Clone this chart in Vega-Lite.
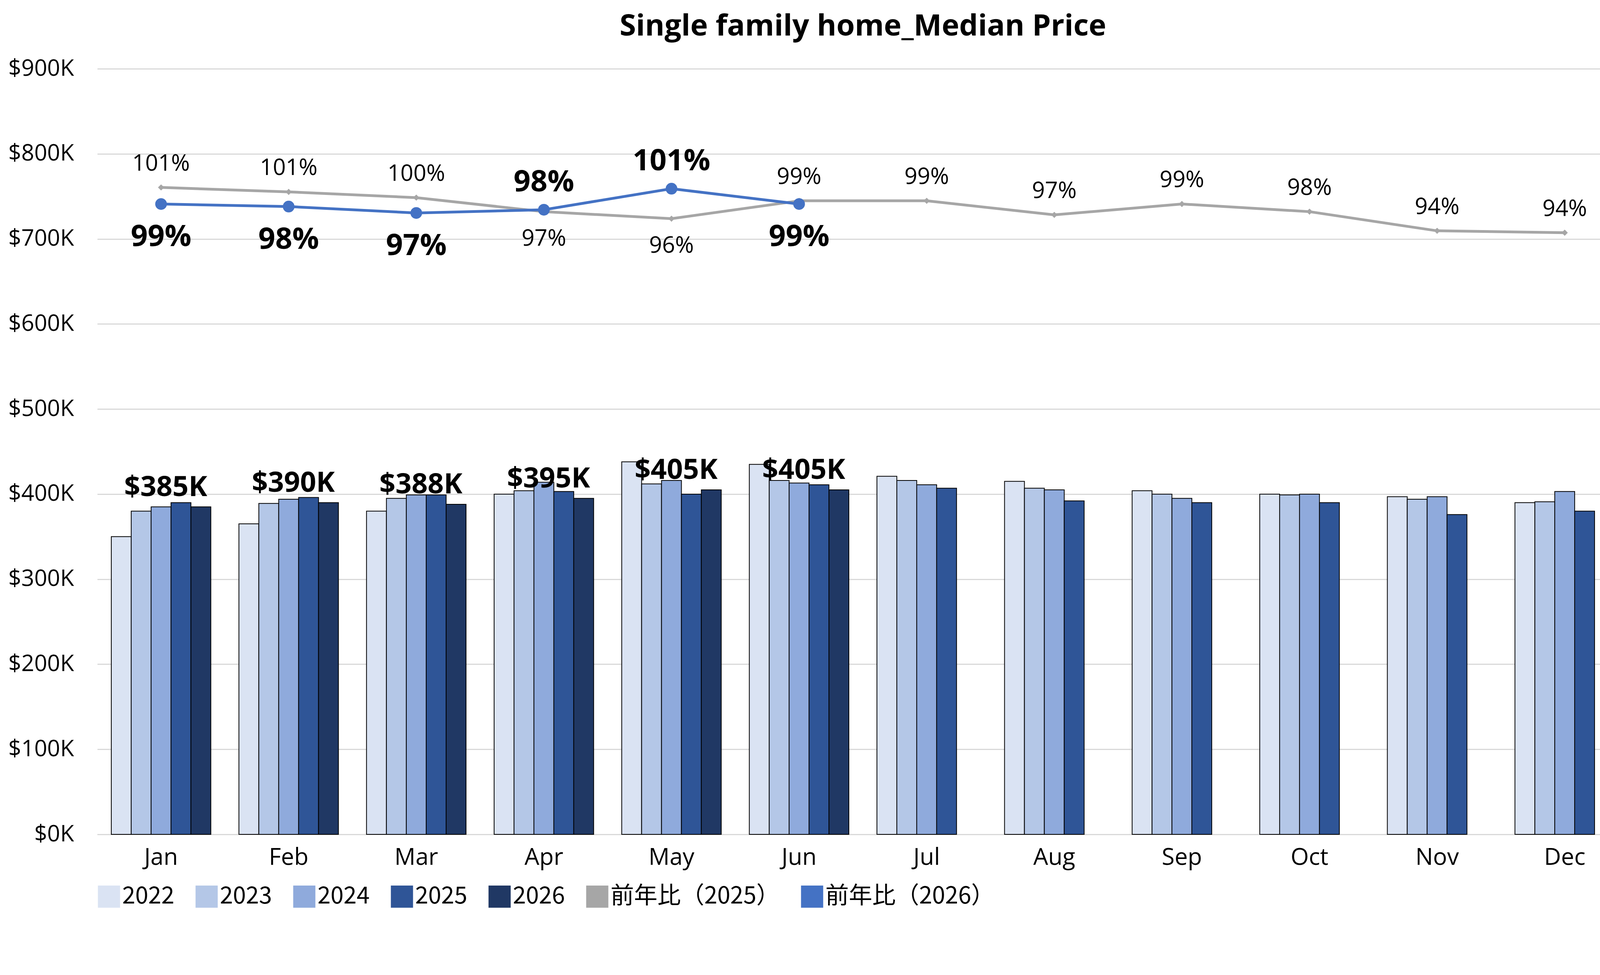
{
  "$schema": "https://vega.github.io/schema/vega-lite/v6.json",
  "width": 3920,
  "height": 1960,
  "padding": {"left": 20, "right": 20, "top": 30, "bottom": 20},
  "background": "white",
  "title": {"text": "Single family home_Median Price", "fontSize": 76, "font": "Open Sans", "fontWeight": "bold", "color": "#000000", "offset": 40},
  "datasets": {
    "bars": [
      {"month": "Jan", "year": "2022", "price": 350}, {"month": "Jan", "year": "2023", "price": 380}, {"month": "Jan", "year": "2024", "price": 385}, {"month": "Jan", "year": "2025", "price": 390}, {"month": "Jan", "year": "2026", "price": 385},
      {"month": "Feb", "year": "2022", "price": 365}, {"month": "Feb", "year": "2023", "price": 389}, {"month": "Feb", "year": "2024", "price": 394}, {"month": "Feb", "year": "2025", "price": 396}, {"month": "Feb", "year": "2026", "price": 390},
      {"month": "Mar", "year": "2022", "price": 380}, {"month": "Mar", "year": "2023", "price": 395}, {"month": "Mar", "year": "2024", "price": 399}, {"month": "Mar", "year": "2025", "price": 399}, {"month": "Mar", "year": "2026", "price": 388},
      {"month": "Apr", "year": "2022", "price": 400}, {"month": "Apr", "year": "2023", "price": 404}, {"month": "Apr", "year": "2024", "price": 414}, {"month": "Apr", "year": "2025", "price": 403}, {"month": "Apr", "year": "2026", "price": 395},
      {"month": "May", "year": "2022", "price": 438}, {"month": "May", "year": "2023", "price": 412}, {"month": "May", "year": "2024", "price": 416}, {"month": "May", "year": "2025", "price": 400}, {"month": "May", "year": "2026", "price": 405},
      {"month": "Jun", "year": "2022", "price": 435}, {"month": "Jun", "year": "2023", "price": 416}, {"month": "Jun", "year": "2024", "price": 413}, {"month": "Jun", "year": "2025", "price": 411}, {"month": "Jun", "year": "2026", "price": 405},
      {"month": "Jul", "year": "2022", "price": 421}, {"month": "Jul", "year": "2023", "price": 416}, {"month": "Jul", "year": "2024", "price": 411}, {"month": "Jul", "year": "2025", "price": 407},
      {"month": "Aug", "year": "2022", "price": 415}, {"month": "Aug", "year": "2023", "price": 407}, {"month": "Aug", "year": "2024", "price": 405}, {"month": "Aug", "year": "2025", "price": 392},
      {"month": "Sep", "year": "2022", "price": 404}, {"month": "Sep", "year": "2023", "price": 400}, {"month": "Sep", "year": "2024", "price": 395}, {"month": "Sep", "year": "2025", "price": 390},
      {"month": "Oct", "year": "2022", "price": 400}, {"month": "Oct", "year": "2023", "price": 399}, {"month": "Oct", "year": "2024", "price": 400}, {"month": "Oct", "year": "2025", "price": 390},
      {"month": "Nov", "year": "2022", "price": 397}, {"month": "Nov", "year": "2023", "price": 394}, {"month": "Nov", "year": "2024", "price": 397}, {"month": "Nov", "year": "2025", "price": 376},
      {"month": "Dec", "year": "2022", "price": 390}, {"month": "Dec", "year": "2023", "price": 391}, {"month": "Dec", "year": "2024", "price": 403}, {"month": "Dec", "year": "2025", "price": 380}
    ],
    "yoy": [
      {"month": "Jan", "series": "前年比（2025）", "yoy": 101.4, "label": "101%"},
      {"month": "Feb", "series": "前年比（2025）", "yoy": 100.7, "label": "101%"},
      {"month": "Mar", "series": "前年比（2025）", "yoy": 99.8, "label": "100%"},
      {"month": "Apr", "series": "前年比（2025）", "yoy": 97.6, "label": "97%"},
      {"month": "May", "series": "前年比（2025）", "yoy": 96.5, "label": "96%"},
      {"month": "Jun", "series": "前年比（2025）", "yoy": 99.3, "label": "99%"},
      {"month": "Jul", "series": "前年比（2025）", "yoy": 99.3, "label": "99%"},
      {"month": "Aug", "series": "前年比（2025）", "yoy": 97.1, "label": "97%"},
      {"month": "Sep", "series": "前年比（2025）", "yoy": 98.8, "label": "99%"},
      {"month": "Oct", "series": "前年比（2025）", "yoy": 97.6, "label": "98%"},
      {"month": "Nov", "series": "前年比（2025）", "yoy": 94.6, "label": "94%"},
      {"month": "Dec", "series": "前年比（2025）", "yoy": 94.3, "label": "94%"},
      {"month": "Jan", "series": "前年比（2026）", "yoy": 98.8, "label": "99%"},
      {"month": "Feb", "series": "前年比（2026）", "yoy": 98.4, "label": "98%"},
      {"month": "Mar", "series": "前年比（2026）", "yoy": 97.4, "label": "97%"},
      {"month": "Apr", "series": "前年比（2026）", "yoy": 97.9, "label": "98%"},
      {"month": "May", "series": "前年比（2026）", "yoy": 101.2, "label": "101%"},
      {"month": "Jun", "series": "前年比（2026）", "yoy": 98.8, "label": "99%"}
    ]
  },
  "layer": [
    {
      "layer": [
        {
          "data": {"name": "bars"},
          "mark": {"type": "bar", "stroke": "#000000", "strokeWidth": 2},
          "encoding": {
            "x": {"field": "month", "type": "nominal", "sort": ["Jan","Feb","Mar","Apr","May","Jun","Jul","Aug","Sep","Oct","Nov","Dec"], "title": null,
              "scale": {"paddingInner": 0.22, "paddingOuter": 0.11},
              "axis": {"labelAngle": 0, "labelFontSize": 60, "labelPadding": 30, "ticks": false, "domainColor": "#d9d9d9", "domainWidth": 3, "labelColor": "#000000", "labelFont": "Open Sans"}},
            "xOffset": {"field": "year", "type": "nominal", "scale": {"domain": ["2022","2023","2024","2025","2026"], "paddingInner": 0, "paddingOuter": 0}},
            "y": {"field": "price", "type": "quantitative", "title": null, "scale": {"domain": [0, 900]},
              "axis": {"values": [0,100,200,300,400,500,600,700,800,900], "labelExpr": "'$' + datum.value + 'K'", "labelFontSize": 58, "labelColor": "#000000", "labelFont": "Open Sans", "grid": true, "gridColor": "#d9d9d9", "gridWidth": 3, "domain": false, "ticks": false, "labelPadding": 60}},
            "color": {"field": "year", "type": "nominal", "title": null,
              "scale": {"domain": ["2022","2023","2024","2025","2026","前年比（2025）","前年比（2026）"], "range": ["#dae3f3","#b4c7e7","#8faadc","#2f5597","#203864","#a6a6a6","#4472c4"]},
              "legend": {"orient": "bottom", "direction": "horizontal", "labelFontSize": 60, "labelLimit": 0, "labelFont": "Noto Sans CJK JP", "symbolSize": 3000, "symbolType": "square", "symbolStrokeColor": "#000000", "symbolStrokeWidth": 2, "columnPadding": 50, "offset": 40, "labelColor": "#000000"}}
          }
        },
        {
          "data": {"name": "bars"},
          "transform": [{"filter": "datum.year == '2026'"}, {"calculate": "'$' + datum.price + 'K'", "as": "lab"}],
          "mark": {"type": "text", "fontSize": 72, "fontWeight": "bold", "font": "Open Sans", "dy": -50, "dx": -90, "color": "#000000"},
          "encoding": {
            "x": {"field": "month", "type": "nominal", "sort": ["Jan","Feb","Mar","Apr","May","Jun","Jul","Aug","Sep","Oct","Nov","Dec"]},
            "xOffset": {"field": "year", "type": "nominal"},
            "y": {"field": "price", "type": "quantitative"},
            "text": {"field": "lab"}
          }
        }
      ]
    },
    {
      "data": {"name": "yoy"},
      "layer": [
        {
          "mark": {"type": "line", "strokeWidth": 7},
          "encoding": {
            "x": {"field": "month", "type": "nominal", "sort": ["Jan","Feb","Mar","Apr","May","Jun","Jul","Aug","Sep","Oct","Nov","Dec"]},
            "y": {"field": "yoy", "type": "quantitative", "scale": {"domain": [0, 120]}, "title": null,
              "axis": {"orient": "right", "values": [0,20,40,60,80,100,120], "labelExpr": "datum.value + '%'", "labelFontSize": 58, "labelColor": "#000000", "labelFont": "Open Sans", "grid": false, "domain": false, "ticks": false, "labelPadding": 60}},
            "color": {"field": "series", "type": "nominal"}
          }
        },
        {
          "mark": {"type": "point", "filled": true, "opacity": 1},
          "encoding": {
            "x": {"field": "month", "type": "nominal", "sort": ["Jan","Feb","Mar","Apr","May","Jun","Jul","Aug","Sep","Oct","Nov","Dec"]},
            "y": {"field": "yoy", "type": "quantitative"},
            "color": {"field": "series", "type": "nominal"},
            "shape": {"field": "series", "type": "nominal", "scale": {"domain": ["前年比（2025）","前年比（2026）"], "range": ["diamond","circle"]}, "legend": null},
            "size": {"field": "series", "type": "nominal", "scale": {"domain": ["前年比（2025）","前年比（2026）"], "range": [250, 900]}, "legend": null}
          }
        },
        {
          "transform": [{"filter": "datum.series == '前年比（2025）' && datum.month != 'Apr' && datum.month != 'May'"}],
          "mark": {"type": "text", "fontSize": 58, "font": "Open Sans", "dy": -60, "color": "#000000"},
          "encoding": {
            "x": {"field": "month", "type": "nominal", "sort": ["Jan","Feb","Mar","Apr","May","Jun","Jul","Aug","Sep","Oct","Nov","Dec"]},
            "y": {"field": "yoy", "type": "quantitative"},
            "text": {"field": "label"}
          }
        },
        {
          "transform": [{"filter": "datum.series == '前年比（2025）' && (datum.month == 'Apr' || datum.month == 'May')"}],
          "mark": {"type": "text", "fontSize": 58, "font": "Open Sans", "dy": 70, "color": "#000000"},
          "encoding": {
            "x": {"field": "month", "type": "nominal", "sort": ["Jan","Feb","Mar","Apr","May","Jun","Jul","Aug","Sep","Oct","Nov","Dec"]},
            "y": {"field": "yoy", "type": "quantitative"},
            "text": {"field": "label"}
          }
        },
        {
          "transform": [{"filter": "datum.series == '前年比（2026）' && datum.month != 'Apr' && datum.month != 'May'"}],
          "mark": {"type": "text", "fontSize": 76, "fontWeight": "bold", "font": "Open Sans", "dy": 85, "color": "#000000"},
          "encoding": {
            "x": {"field": "month", "type": "nominal", "sort": ["Jan","Feb","Mar","Apr","May","Jun","Jul","Aug","Sep","Oct","Nov","Dec"]},
            "y": {"field": "yoy", "type": "quantitative"},
            "text": {"field": "label"}
          }
        },
        {
          "transform": [{"filter": "datum.series == '前年比（2026）' && (datum.month == 'Apr' || datum.month == 'May')"}],
          "mark": {"type": "text", "fontSize": 76, "fontWeight": "bold", "font": "Open Sans", "dy": -70, "color": "#000000"},
          "encoding": {
            "x": {"field": "month", "type": "nominal", "sort": ["Jan","Feb","Mar","Apr","May","Jun","Jul","Aug","Sep","Oct","Nov","Dec"]},
            "y": {"field": "yoy", "type": "quantitative"},
            "text": {"field": "label"}
          }
        }
      ]
    }
  ],
  "resolve": {"scale": {"y": "independent"}},
  "config": {"view": {"stroke": null}}
}
